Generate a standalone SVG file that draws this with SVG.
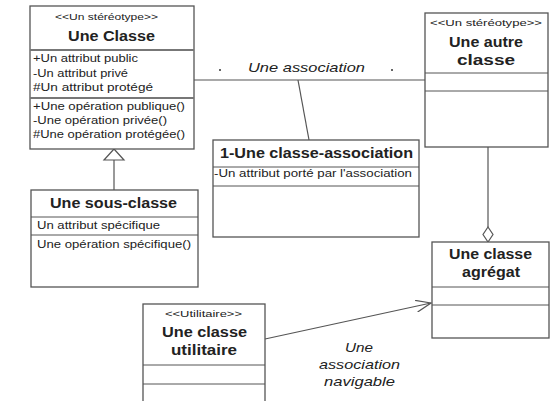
<svg xmlns="http://www.w3.org/2000/svg" width="551" height="401" viewBox="0 0 551 401">
<style>
.box{fill:#fff;stroke:#555;stroke-width:1.3}
.div{stroke:#555;stroke-width:1}
.ddiv{stroke:#777;stroke-width:2}
.ln{stroke:#555;stroke-width:1.2;fill:none}
text{font-family:"Liberation Sans",Arial,sans-serif;fill:#222}
.st{font-size:9.5px}
.ti{font-size:14px;font-weight:bold}
.mb{font-size:10.5px}
.it{font-size:13px;font-style:italic}
</style>
<defs>
<marker id="open" markerWidth="16" markerHeight="12" refX="15" refY="6" orient="auto" markerUnits="userSpaceOnUse">
<path d="M0,0 L15,6 L0,12" fill="none" stroke="#555" stroke-width="1.2"/>
</marker>
</defs>
<g id="connectors">
<line class="ln" x1="194" y1="80" x2="425" y2="80"/>
<line class="ln" x1="298" y1="80" x2="309" y2="140"/>
<line class="ln" x1="114" y1="160" x2="114" y2="190"/>
<polygon points="114,149 104,160 124,160" fill="#fff" stroke="#555" stroke-width="1.2"/>
<line class="ln" x1="488" y1="147" x2="488" y2="227"/>
<polygon points="488,227 493,234.5 488,242 483,234.5" fill="#fff" stroke="#555" stroke-width="1.2"/>
<line class="ln" x1="265" y1="339" x2="431" y2="303" marker-end="url(#open)"/>
<text class="it" x="248" y="72" textLength="117" lengthAdjust="spacingAndGlyphs">Une association</text>
<circle cx="220" cy="70" r="1" fill="#333"/>
<circle cx="392" cy="70" r="1" fill="#333"/>
<text class="it" x="345" y="352" textLength="28" lengthAdjust="spacingAndGlyphs">Une</text>
<text class="it" x="319" y="369" textLength="81" lengthAdjust="spacingAndGlyphs">association</text>
<text class="it" x="324" y="386" textLength="71" lengthAdjust="spacingAndGlyphs">navigable</text>
</g>
<g id="une-classe">
<rect class="box" x="30" y="6" width="164" height="143"/>
<line class="ddiv" x1="30" y1="50" x2="194" y2="50"/>
<line class="ddiv" x1="30" y1="98" x2="194" y2="98"/>
<text class="st" x="55" y="20" textLength="103" lengthAdjust="spacingAndGlyphs">&lt;&lt;Un stéréotype&gt;&gt;</text>
<text class="ti" x="68" y="41" textLength="87" lengthAdjust="spacingAndGlyphs">Une Classe</text>
<text class="mb" x="33" y="62" textLength="105" lengthAdjust="spacingAndGlyphs">+Un attribut public</text>
<text class="mb" x="33" y="76.5" textLength="95" lengthAdjust="spacingAndGlyphs">-Un attribut privé</text>
<text class="mb" x="33" y="90.5" textLength="120" lengthAdjust="spacingAndGlyphs">#Un attribut protégé</text>
<text class="mb" x="33" y="110" textLength="152" lengthAdjust="spacingAndGlyphs">+Une opération publique()</text>
<text class="mb" x="33" y="124" textLength="134" lengthAdjust="spacingAndGlyphs">-Une opération privée()</text>
<text class="mb" x="33" y="138" textLength="152" lengthAdjust="spacingAndGlyphs">#Une opération protégée()</text>
</g>
<g id="une-autre-classe">
<rect class="box" x="425" y="13" width="123" height="134"/>
<line class="div" x1="425" y1="73" x2="548" y2="73"/>
<line class="div" x1="425" y1="91" x2="548" y2="91"/>
<text class="st" x="430" y="26" textLength="112" lengthAdjust="spacingAndGlyphs">&lt;&lt;Un stéréotype&gt;&gt;</text>
<text class="ti" x="449" y="47" textLength="74" lengthAdjust="spacingAndGlyphs">Une autre</text>
<text class="ti" x="457" y="65" textLength="58" lengthAdjust="spacingAndGlyphs">classe</text>
</g>
<g id="classe-association">
<rect class="box" x="213" y="140" width="206" height="97"/>
<line class="div" x1="213" y1="167" x2="419" y2="167"/>
<line class="div" x1="213" y1="186" x2="419" y2="186"/>
<text class="ti" x="220" y="158" textLength="193" lengthAdjust="spacingAndGlyphs">1-Une classe-association</text>
<text class="mb" x="214" y="177" textLength="198" lengthAdjust="spacingAndGlyphs">-Un attribut porté par l'association</text>
</g>
<g id="sous-classe">
<rect class="box" x="31" y="190" width="167" height="97"/>
<line class="div" x1="31" y1="217" x2="198" y2="217"/>
<line class="div" x1="31" y1="235" x2="198" y2="235"/>
<text class="ti" x="50" y="208" textLength="127" lengthAdjust="spacingAndGlyphs">Une sous-classe</text>
<text class="mb" x="37" y="229" textLength="123" lengthAdjust="spacingAndGlyphs">Un attribut spécifique</text>
<text class="mb" x="37" y="248" textLength="154" lengthAdjust="spacingAndGlyphs">Une opération spécifique()</text>
</g>
<g id="classe-agregat">
<rect class="box" x="432" y="242" width="117" height="96"/>
<line class="div" x1="432" y1="287" x2="549" y2="287"/>
<line class="div" x1="432" y1="305" x2="549" y2="305"/>
<text class="ti" x="449" y="259" textLength="83" lengthAdjust="spacingAndGlyphs">Une classe</text>
<text class="ti" x="462" y="277" textLength="58" lengthAdjust="spacingAndGlyphs">agrégat</text>
</g>
<g id="classe-utilitaire">
<rect class="box" x="143" y="304" width="122" height="110"/>
<line class="div" x1="143" y1="365" x2="265" y2="365"/>
<line class="div" x1="143" y1="384" x2="265" y2="384"/>
<text class="st" x="165" y="317" textLength="77" lengthAdjust="spacingAndGlyphs">&lt;&lt;Utilitaire&gt;&gt;</text>
<text class="ti" x="162" y="337" textLength="85" lengthAdjust="spacingAndGlyphs">Une classe</text>
<text class="ti" x="171" y="355" textLength="66" lengthAdjust="spacingAndGlyphs">utilitaire</text>
</g>
</svg>
